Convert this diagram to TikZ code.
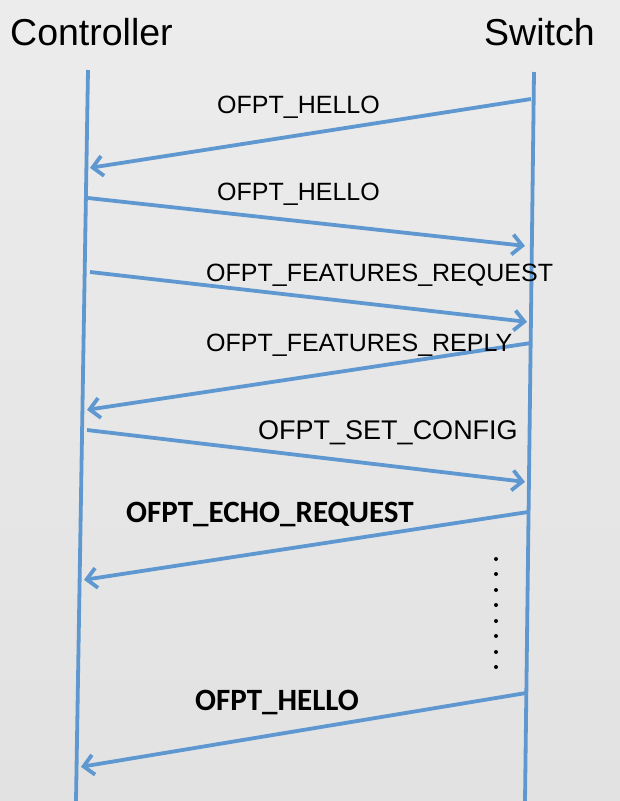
\documentclass[tikz,border=0pt]{standalone}
\usepackage{fontspec}
\setmainfont{Liberation Sans}
\newfontfamily\calib{Carlito}
\usetikzlibrary{arrows.meta}
\definecolor{bgtop}{HTML}{ECECEC}
\definecolor{bgbot}{HTML}{E2E2E2}
\definecolor{lineblue}{HTML}{5F97D0}
\tikzset{
  life/.style={draw=lineblue, line width=3.8pt},
  msg/.style={draw=lineblue, line width=3.8pt, -{Straight Barb[length=10pt,width=20pt,line width=3.8pt]}, shorten >=1pt},
  lbl/.style={anchor=base west, inner sep=0pt, font=\fontsize{25}{29}\selectfont, text=black},
  blbl/.style={anchor=base west, inner sep=0pt, font=\calib\bfseries\fontsize{31}{35}\selectfont, text=black},
  ttl/.style={anchor=base west, inner sep=0pt, font=\fontsize{37.5}{41}\selectfont, text=black},
  dotm/.style={fill=black, circle, inner sep=0pt, minimum size=4pt}
}
\begin{document}
\begin{tikzpicture}[x=1pt,y=-1pt]
\useasboundingbox (0,0) rectangle (620,801);
\shade[top color=bgtop, bottom color=bgbot] (0,0) rectangle (620,801);
% titles
\node[ttl] (tctrl) at (10,45) {Controller};
\node[ttl] (tsw) at (484,45) {Switch};
% lifelines
\coordinate (ctop) at (88,70);
\coordinate (cbot) at (76,801);
\coordinate (stop) at (534,72);
\coordinate (sbot) at (525,801);
\draw[life] (ctop) -- (cbot);
\draw[life] (stop) -- (sbot);
% message endpoints
\coordinate (s1) at (531,99);   \coordinate (c1) at (89,168);
\coordinate (c2) at (88,198);   \coordinate (s2) at (526,246);
\coordinate (c3) at (90,272);   \coordinate (s3) at (528,322);
\coordinate (s4) at (531,343);  \coordinate (c4) at (86,410);
\coordinate (c5) at (87,430);   \coordinate (s5) at (526,482);
\coordinate (s6) at (528,512);  \coordinate (c6) at (83,580);
\coordinate (s7) at (526,693);  \coordinate (c7) at (80,767);
\draw[msg] (s1) -- (c1);
\draw[msg] (c2) -- (s2);
\draw[msg] (c3) -- (s3);
\draw[msg] (s4) -- (c4);
\draw[msg] (c5) -- (s5);
\draw[msg] (s6) -- (c6);
\draw[msg] (s7) -- (c7);
% labels
\node[lbl] (l1) at (217,113) {OFPT\_HELLO};
\node[lbl] (l2) at (217,200) {OFPT\_HELLO};
\node[lbl] (l3) at (206,281) {OFPT\_FEATURES\_REQUEST};
\node[lbl] (l4) at (206,351) {OFPT\_FEATURES\_REPLY};
\node[lbl, font=\fontsize{27}{31}\selectfont] (l5) at (258,439) {OFPT\_SET\_CONFIG};
\node[blbl] (l6) at (126,522) {OFPT\_ECHO\_REQUEST};
\node[blbl] (l7) at (195,710) {OFPT\_HELLO};
% ellipsis dots
\foreach \i/\y in {1/559,2/574,3/590,4/605,5/621,6/636,7/652,8/667}
  \node[dotm] (d\i) at (496,\y) {};
\end{tikzpicture}
\end{document}
